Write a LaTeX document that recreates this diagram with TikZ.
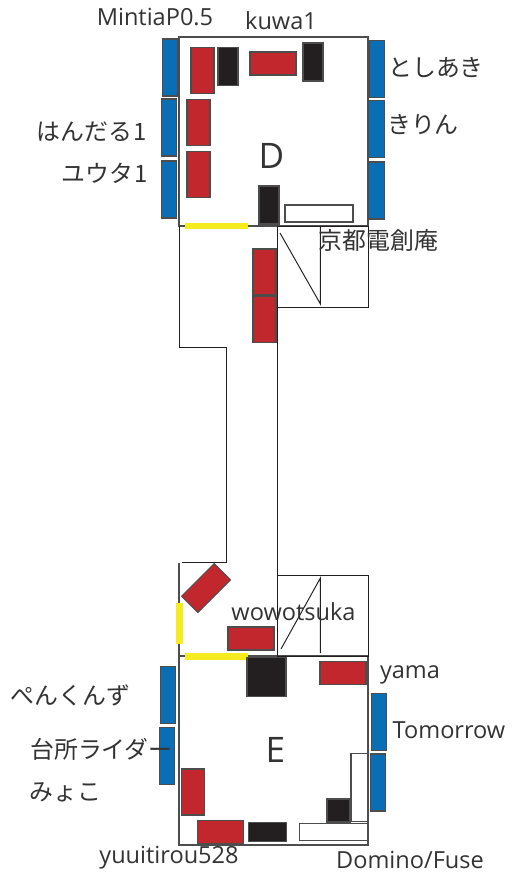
\documentclass[tikz,border=0pt]{standalone}
\usepackage{fontspec}
\setmainfont{Open Sans}
\newfontfamily\jpfont{Noto Sans CJK JP}
\usepackage{xcolor}
\definecolor{seatred}{HTML}{C1272D}
\definecolor{seatblue}{HTML}{0A6EB5}
\definecolor{seatblack}{HTML}{231F20}
\definecolor{markyellow}{HTML}{F4EC1F}
\definecolor{wallgray}{HTML}{4D4D4D}
\definecolor{labelgray}{HTML}{333333}
\tikzset{
  seat/.style={draw=wallgray,line width=0.6pt,inner sep=0pt},
  redtall/.style={seat,fill=seatred,minimum width=0.46cm,minimum height=0.92cm},
  redwide/.style={seat,fill=seatred,minimum width=0.92cm,minimum height=0.46cm},
  bluetall/.style={seat,fill=seatblue,minimum width=0.31cm,minimum height=1.14cm},
  blacktall/.style={seat,fill=seatblack,minimum width=0.40cm,minimum height=0.76cm},
  blackwide/.style={seat,fill=seatblack,minimum width=0.77cm,minimum height=0.39cm},
  blacksquare/.style={seat,fill=seatblack,minimum width=0.78cm,minimum height=0.78cm},
  blacksmall/.style={seat,fill=seatblack,minimum width=0.46cm,minimum height=0.46cm},
  whitewide/.style={seat,fill=white,minimum width=1.36cm,minimum height=0.34cm},
  whitetall/.style={seat,fill=white,minimum width=0.34cm,minimum height=1.36cm},
  yellowwide/.style={fill=markyellow,inner sep=0pt,minimum width=1.26cm,minimum height=0.13cm},
  yellowtall/.style={fill=markyellow,inner sep=0pt,minimum width=0.13cm,minimum height=0.82cm},
  wall/.style={draw=wallgray,line width=0.7pt},
  thinline/.style={draw=seatblack,line width=0.55pt},
  latinlabel/.style={text=labelgray,inner sep=0pt,anchor=base,font=\fontsize{13.4}{15}\selectfont},
  jplabel/.style={text=labelgray,inner sep=0pt,font=\jpfont\fontsize{13.6}{15}\selectfont},
  roomlabel/.style={text=labelgray,inner sep=0pt,anchor=base,font=\fontsize{20}{22}\selectfont},
}
\begin{document}
\begin{tikzpicture}[x=0.02cm,y=-0.02cm]
  \useasboundingbox (0,0) rectangle (511,875);
  % room D and its stage
  \draw[wall] (179,37) rectangle (368,226);
  \draw[thinline] (277,226) rectangle (368,307);
  \draw[thinline] (320.4,226) -- (320.4,304) -- (280,233);
  % corridor
  \draw[thinline] (179,226) -- (179,347) -- (226,347) -- (226,562) -- (182,562);
  \draw[thinline] (277,226) -- (277,656);
  % room E and its stage
  \draw[wall] (179,563) -- (179,845) -- (368,845) -- (368,656) -- (179,656);
  \draw[thinline] (277,575) rectangle (368,656);
  \draw[thinline] (320.4,653) -- (320.4,578) -- (281,649);
  % seats around D
  \node[bluetall] (d1) at (170,67.5) {};
  \node[bluetall] (d2) at (169,127.5) {};
  \node[bluetall] (d3) at (169,189.5) {};
  \node[bluetall] (d4) at (377,69) {};
  \node[bluetall] (d5) at (376.5,129) {};
  \node[bluetall] (d6) at (376.5,190.5) {};
  \node[redtall] (d7) at (202.5,70.5) {};
  \node[redtall] (d8) at (198.5,122.5) {};
  \node[redtall] (d9) at (198.5,174.5) {};
  \node[redwide] (d10) at (273,63.5) {};
  \node[blacktall] (d11) at (228,66.5) {};
  \node[blacktall] (d12) at (313,62) {};
  \node[blacktall] (d13) at (269,205) {};
  \node[whitewide] (d14) at (319,213.5) {};
  \node[yellowwide] (d15) at (216.5,226) {};
  % corridor
  \node[redtall] (c1) at (264.5,272) {};
  \node[redtall] (c2) at (264.5,319.5) {};
  \node[redwide,rotate=45] (c3) at (206,588) {};
  \node[redwide] (c4) at (251,638.5) {};
  \node[yellowtall] (c5) at (179.5,623.5) {};
  % seats around E
  \node[yellowwide] (e1) at (216.5,656.5) {};
  \node[blacksquare] (e2) at (266.5,677) {};
  \node[redwide] (e3) at (343,673) {};
  \node[bluetall] (e4) at (168,695) {};
  \node[bluetall] (e5) at (167,756) {};
  \node[bluetall] (e6) at (379,722) {};
  \node[bluetall] (e7) at (378,782.5) {};
  \node[redtall] (e8) at (193,792) {};
  \node[redwide] (e9) at (220.5,832) {};
  \node[blackwide] (e10) at (267.5,832) {};
  \node[whitewide] (e11) at (333.5,832) {};
  \node[whitetall] (e12) at (359.5,787.5) {};
  \node[blacksmall] (e13) at (338.5,810.5) {};
  % names
  \node[latinlabel] (mintia) at (155,26) {MintiaP0.5};
  \node[latinlabel] (kuwa) at (281,30) {kuwa1};
  \node[jplabel] (toshiaki) at (436,68) {としあき};
  \node[jplabel] (kirin) at (423,125) {きりん};
  \node[jplabel] (handaru) at (92,132) {はんだる\hspace{0.05em}1};
  \node[jplabel] (yuta) at (104.5,173) {ユウタ\hspace{0.05em}1};
  \node[roomlabel] (roomD) at (271.5,168) {D};
  \node[jplabel] (kyoto) at (378.5,240) {京都電創庵};
  \node[latinlabel] (wowo) at (293.5,620) {wowotsuka};
  \node[latinlabel] (yama) at (410,678) {yama};
  \node[latinlabel] (tomorrow) at (449,738) {Tomorrow};
  \node[roomlabel] (roomE) at (275.5,762) {E};
  \node[jplabel] (penkunzu) at (70.5,695) {ぺんくんず};
  \node[jplabel] (daidokoro) at (101.5,749) {台所ライダー};
  \node[jplabel] (miyoko) at (65.5,792) {みょこ};
  \node[latinlabel] (yuuitirou) at (169,863) {yuuitirou528};
  \node[latinlabel] (domino) at (410,868) {Domino/Fuse};
\end{tikzpicture}
\end{document}
